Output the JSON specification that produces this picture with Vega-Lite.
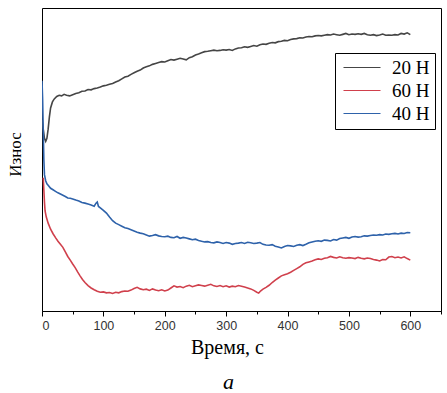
{
  "$schema": "https://vega.github.io/schema/vega-lite/v6.json",
  "autosize": "none",
  "width": 399,
  "height": 303,
  "padding": {"left": 42, "top": 8, "right": 6, "bottom": 82},
  "background": "white",
  "config": {
    "view": {"stroke": "black", "strokeWidth": 1},
    "axis": {"grid": false}
  },
  "title": {
    "text": "a",
    "orient": "bottom",
    "anchor": "middle",
    "font": "Liberation Serif",
    "fontSize": 22,
    "fontStyle": "italic",
    "fontWeight": "normal",
    "color": "black",
    "offset": 14,
    "dx": -13
  },
  "data": {
    "values": [
      {"s":"20 Н","t":0,"v":63},{"s":"20 Н","t":2,"v":60},{"s":"20 Н","t":4,"v":57},{"s":"20 Н","t":6,"v":56},{"s":"20 Н","t":8,"v":57},{"s":"20 Н","t":10,"v":60},{"s":"20 Н","t":12,"v":64},{"s":"20 Н","t":14,"v":67},{"s":"20 Н","t":17,"v":69},{"s":"20 Н","t":20,"v":70},{"s":"20 Н","t":24,"v":70.8},{"s":"20 Н","t":28,"v":71.2},{"s":"20 Н","t":32,"v":71},{"s":"20 Н","t":36,"v":71.5},{"s":"20 Н","t":40,"v":71.2},{"s":"20 Н","t":45,"v":71.0},{"s":"20 Н","t":50,"v":71.4},{"s":"20 Н","t":55,"v":71.8},{"s":"20 Н","t":60,"v":72},{"s":"20 Н","t":65,"v":72.5},{"s":"20 Н","t":70,"v":72.6},{"s":"20 Н","t":75,"v":73.1},{"s":"20 Н","t":80,"v":73},{"s":"20 Н","t":85,"v":73.4},{"s":"20 Н","t":90,"v":73.6},{"s":"20 Н","t":95,"v":73.9},{"s":"20 Н","t":100,"v":74.3},{"s":"20 Н","t":105,"v":74.5},{"s":"20 Н","t":110,"v":74.8},{"s":"20 Н","t":115,"v":75.1},{"s":"20 Н","t":120,"v":75.6},{"s":"20 Н","t":125,"v":76},{"s":"20 Н","t":130,"v":76.6},{"s":"20 Н","t":135,"v":77.2},{"s":"20 Н","t":140,"v":77.5},{"s":"20 Н","t":145,"v":78.1},{"s":"20 Н","t":150,"v":78.6},{"s":"20 Н","t":155,"v":79.1},{"s":"20 Н","t":160,"v":79.5},{"s":"20 Н","t":165,"v":80.2},{"s":"20 Н","t":170,"v":80.6},{"s":"20 Н","t":175,"v":80.9},{"s":"20 Н","t":180,"v":81.4},{"s":"20 Н","t":185,"v":81.7},{"s":"20 Н","t":190,"v":82},{"s":"20 Н","t":195,"v":82.3},{"s":"20 Н","t":200,"v":82.2},{"s":"20 Н","t":205,"v":82.6},{"s":"20 Н","t":210,"v":83.0},{"s":"20 Н","t":215,"v":82.8},{"s":"20 Н","t":220,"v":83.1},{"s":"20 Н","t":225,"v":83.4},{"s":"20 Н","t":230,"v":83.2},{"s":"20 Н","t":235,"v":82.9},{"s":"20 Н","t":240,"v":83.6},{"s":"20 Н","t":245,"v":83.9},{"s":"20 Н","t":250,"v":84.5},{"s":"20 Н","t":255,"v":84.8},{"s":"20 Н","t":260,"v":85.2},{"s":"20 Н","t":265,"v":85.6},{"s":"20 Н","t":270,"v":85.7},{"s":"20 Н","t":275,"v":85.9},{"s":"20 Н","t":280,"v":86.1},{"s":"20 Н","t":285,"v":85.9},{"s":"20 Н","t":290,"v":86.0},{"s":"20 Н","t":295,"v":86.2},{"s":"20 Н","t":300,"v":86.1},{"s":"20 Н","t":305,"v":86.3},{"s":"20 Н","t":310,"v":86.0},{"s":"20 Н","t":315,"v":86.5},{"s":"20 Н","t":320,"v":86.8},{"s":"20 Н","t":325,"v":86.9},{"s":"20 Н","t":330,"v":87.2},{"s":"20 Н","t":335,"v":87.0},{"s":"20 Н","t":340,"v":87.3},{"s":"20 Н","t":345,"v":87.6},{"s":"20 Н","t":350,"v":87.4},{"s":"20 Н","t":355,"v":87.9},{"s":"20 Н","t":360,"v":88.1},{"s":"20 Н","t":365,"v":88.0},{"s":"20 Н","t":370,"v":88.4},{"s":"20 Н","t":375,"v":88.6},{"s":"20 Н","t":380,"v":88.5},{"s":"20 Н","t":385,"v":88.9},{"s":"20 Н","t":390,"v":89.0},{"s":"20 Н","t":395,"v":89.3},{"s":"20 Н","t":400,"v":89.2},{"s":"20 Н","t":405,"v":89.6},{"s":"20 Н","t":410,"v":89.8},{"s":"20 Н","t":415,"v":89.9},{"s":"20 Н","t":420,"v":90.2},{"s":"20 Н","t":425,"v":90.1},{"s":"20 Н","t":430,"v":90.4},{"s":"20 Н","t":435,"v":90.6},{"s":"20 Н","t":440,"v":90.5},{"s":"20 Н","t":445,"v":90.8},{"s":"20 Н","t":450,"v":90.9},{"s":"20 Н","t":455,"v":90.8},{"s":"20 Н","t":460,"v":91.0},{"s":"20 Н","t":465,"v":91.2},{"s":"20 Н","t":470,"v":91.1},{"s":"20 Н","t":475,"v":91.4},{"s":"20 Н","t":480,"v":91.2},{"s":"20 Н","t":485,"v":91.0},{"s":"20 Н","t":490,"v":91.3},{"s":"20 Н","t":495,"v":91.6},{"s":"20 Н","t":500,"v":91.2},{"s":"20 Н","t":505,"v":91.4},{"s":"20 Н","t":510,"v":91.3},{"s":"20 Н","t":515,"v":91.5},{"s":"20 Н","t":520,"v":91.3},{"s":"20 Н","t":525,"v":91.6},{"s":"20 Н","t":530,"v":91.2},{"s":"20 Н","t":535,"v":91.0},{"s":"20 Н","t":540,"v":91.2},{"s":"20 Н","t":545,"v":90.9},{"s":"20 Н","t":550,"v":91.1},{"s":"20 Н","t":555,"v":91.4},{"s":"20 Н","t":560,"v":91.0},{"s":"20 Н","t":565,"v":91.1},{"s":"20 Н","t":570,"v":91.0},{"s":"20 Н","t":575,"v":91.2},{"s":"20 Н","t":580,"v":91.1},{"s":"20 Н","t":585,"v":91.6},{"s":"20 Н","t":590,"v":91.4},{"s":"20 Н","t":595,"v":91.8},{"s":"20 Н","t":600,"v":91.2},

      {"s":"40 Н","t":0,"v":76},{"s":"40 Н","t":1,"v":70},{"s":"40 Н","t":2,"v":60},{"s":"40 Н","t":3,"v":50},{"s":"40 Н","t":4,"v":45},{"s":"40 Н","t":6,"v":43},{"s":"40 Н","t":8,"v":42},{"s":"40 Н","t":10,"v":41.5},{"s":"40 Н","t":14,"v":40.5},{"s":"40 Н","t":18,"v":40},{"s":"40 Н","t":22,"v":39.5},{"s":"40 Н","t":26,"v":39},{"s":"40 Н","t":30,"v":38.6},{"s":"40 Н","t":34,"v":38.2},{"s":"40 Н","t":38,"v":37.8},{"s":"40 Н","t":42,"v":37.3},{"s":"40 Н","t":46,"v":37.2},{"s":"40 Н","t":50,"v":37.0},{"s":"40 Н","t":55,"v":36.6},{"s":"40 Н","t":60,"v":36.3},{"s":"40 Н","t":65,"v":35.8},{"s":"40 Н","t":70,"v":35.6},{"s":"40 Н","t":75,"v":35.3},{"s":"40 Н","t":80,"v":35.0},{"s":"40 Н","t":85,"v":34.6},{"s":"40 Н","t":88,"v":35.6},{"s":"40 Н","t":90,"v":36.0},{"s":"40 Н","t":92,"v":34.5},{"s":"40 Н","t":95,"v":34.0},{"s":"40 Н","t":100,"v":33.2},{"s":"40 Н","t":105,"v":32.3},{"s":"40 Н","t":110,"v":31.0},{"s":"40 Н","t":115,"v":29.8},{"s":"40 Н","t":120,"v":29.0},{"s":"40 Н","t":125,"v":28.5},{"s":"40 Н","t":130,"v":28.0},{"s":"40 Н","t":135,"v":27.5},{"s":"40 Н","t":140,"v":27.2},{"s":"40 Н","t":145,"v":26.8},{"s":"40 Н","t":150,"v":26.4},{"s":"40 Н","t":155,"v":26.0},{"s":"40 Н","t":160,"v":25.7},{"s":"40 Н","t":165,"v":25.5},{"s":"40 Н","t":170,"v":25.1},{"s":"40 Н","t":175,"v":24.7},{"s":"40 Н","t":180,"v":24.9},{"s":"40 Н","t":185,"v":25.2},{"s":"40 Н","t":190,"v":24.8},{"s":"40 Н","t":195,"v":24.6},{"s":"40 Н","t":200,"v":24.5},{"s":"40 Н","t":205,"v":24.7},{"s":"40 Н","t":210,"v":24.3},{"s":"40 Н","t":215,"v":24.2},{"s":"40 Н","t":220,"v":24.6},{"s":"40 Н","t":225,"v":24.0},{"s":"40 Н","t":230,"v":24.3},{"s":"40 Н","t":235,"v":24.1},{"s":"40 Н","t":240,"v":23.8},{"s":"40 Н","t":245,"v":23.5},{"s":"40 Н","t":250,"v":23.7},{"s":"40 Н","t":255,"v":23.3},{"s":"40 Н","t":260,"v":23.0},{"s":"40 Н","t":265,"v":22.8},{"s":"40 Н","t":270,"v":22.9},{"s":"40 Н","t":275,"v":22.6},{"s":"40 Н","t":280,"v":22.5},{"s":"40 Н","t":285,"v":22.8},{"s":"40 Н","t":290,"v":22.6},{"s":"40 Н","t":295,"v":22.3},{"s":"40 Н","t":300,"v":22.6},{"s":"40 Н","t":305,"v":22.4},{"s":"40 Н","t":310,"v":22.0},{"s":"40 Н","t":315,"v":22.3},{"s":"40 Н","t":320,"v":22.4},{"s":"40 Н","t":325,"v":22.6},{"s":"40 Н","t":330,"v":22.3},{"s":"40 Н","t":335,"v":22.7},{"s":"40 Н","t":340,"v":22.5},{"s":"40 Н","t":345,"v":22.3},{"s":"40 Н","t":350,"v":22.4},{"s":"40 Н","t":355,"v":22.6},{"s":"40 Н","t":360,"v":22.0},{"s":"40 Н","t":365,"v":21.8},{"s":"40 Н","t":370,"v":21.7},{"s":"40 Н","t":375,"v":21.9},{"s":"40 Н","t":380,"v":21.4},{"s":"40 Н","t":385,"v":21.1},{"s":"40 Н","t":390,"v":20.8},{"s":"40 Н","t":395,"v":21.3},{"s":"40 Н","t":400,"v":21.6},{"s":"40 Н","t":405,"v":21.5},{"s":"40 Н","t":410,"v":21.3},{"s":"40 Н","t":415,"v":21.7},{"s":"40 Н","t":420,"v":21.9},{"s":"40 Н","t":425,"v":21.6},{"s":"40 Н","t":430,"v":22.0},{"s":"40 Н","t":435,"v":22.5},{"s":"40 Н","t":440,"v":22.8},{"s":"40 Н","t":445,"v":23.0},{"s":"40 Н","t":450,"v":23.2},{"s":"40 Н","t":455,"v":23.0},{"s":"40 Н","t":460,"v":23.4},{"s":"40 Н","t":465,"v":23.3},{"s":"40 Н","t":470,"v":23.1},{"s":"40 Н","t":475,"v":23.6},{"s":"40 Н","t":480,"v":23.4},{"s":"40 Н","t":485,"v":23.9},{"s":"40 Н","t":490,"v":24.1},{"s":"40 Н","t":495,"v":24.3},{"s":"40 Н","t":500,"v":24.0},{"s":"40 Н","t":505,"v":24.4},{"s":"40 Н","t":510,"v":24.6},{"s":"40 Н","t":515,"v":24.4},{"s":"40 Н","t":520,"v":24.5},{"s":"40 Н","t":525,"v":24.8},{"s":"40 Н","t":530,"v":24.7},{"s":"40 Н","t":535,"v":24.9},{"s":"40 Н","t":540,"v":25.1},{"s":"40 Н","t":545,"v":25.0},{"s":"40 Н","t":550,"v":25.2},{"s":"40 Н","t":555,"v":25.1},{"s":"40 Н","t":560,"v":25.4},{"s":"40 Н","t":565,"v":25.3},{"s":"40 Н","t":570,"v":25.5},{"s":"40 Н","t":575,"v":25.6},{"s":"40 Н","t":580,"v":25.4},{"s":"40 Н","t":585,"v":25.7},{"s":"40 Н","t":590,"v":25.6},{"s":"40 Н","t":595,"v":25.9},{"s":"40 Н","t":600,"v":25.8},

      {"s":"60 Н","t":2,"v":44},{"s":"60 Н","t":3,"v":40},{"s":"60 Н","t":4,"v":36},{"s":"60 Н","t":5,"v":33},{"s":"60 Н","t":7,"v":31},{"s":"60 Н","t":10,"v":29},{"s":"60 Н","t":14,"v":27},{"s":"60 Н","t":18,"v":25.5},{"s":"60 Н","t":22,"v":24.2},{"s":"60 Н","t":26,"v":23.0},{"s":"60 Н","t":30,"v":22.0},{"s":"60 Н","t":34,"v":21.0},{"s":"60 Н","t":38,"v":19.5},{"s":"60 Н","t":42,"v":18},{"s":"60 Н","t":46,"v":16.8},{"s":"60 Н","t":50,"v":15.5},{"s":"60 Н","t":54,"v":14.3},{"s":"60 Н","t":58,"v":12.9},{"s":"60 Н","t":62,"v":11.6},{"s":"60 Н","t":66,"v":10.4},{"s":"60 Н","t":70,"v":9.4},{"s":"60 Н","t":75,"v":8.4},{"s":"60 Н","t":80,"v":7.6},{"s":"60 Н","t":85,"v":7.0},{"s":"60 Н","t":90,"v":6.5},{"s":"60 Н","t":95,"v":6.2},{"s":"60 Н","t":100,"v":6.3},{"s":"60 Н","t":105,"v":6.0},{"s":"60 Н","t":110,"v":6.1},{"s":"60 Н","t":115,"v":5.8},{"s":"60 Н","t":120,"v":6.2},{"s":"60 Н","t":125,"v":6.0},{"s":"60 Н","t":130,"v":6.4},{"s":"60 Н","t":135,"v":6.6},{"s":"60 Н","t":140,"v":6.5},{"s":"60 Н","t":145,"v":6.9},{"s":"60 Н","t":150,"v":7.4},{"s":"60 Н","t":155,"v":7.8},{"s":"60 Н","t":160,"v":7.3},{"s":"60 Н","t":165,"v":7.0},{"s":"60 Н","t":170,"v":7.2},{"s":"60 Н","t":175,"v":6.8},{"s":"60 Н","t":180,"v":7.3},{"s":"60 Н","t":185,"v":6.9},{"s":"60 Н","t":190,"v":6.7},{"s":"60 Н","t":195,"v":7.0},{"s":"60 Н","t":200,"v":6.6},{"s":"60 Н","t":205,"v":6.9},{"s":"60 Н","t":210,"v":7.6},{"s":"60 Н","t":215,"v":8.3},{"s":"60 Н","t":220,"v":7.9},{"s":"60 Н","t":225,"v":8.1},{"s":"60 Н","t":230,"v":7.7},{"s":"60 Н","t":235,"v":8.2},{"s":"60 Н","t":240,"v":8.5},{"s":"60 Н","t":245,"v":8.0},{"s":"60 Н","t":250,"v":8.3},{"s":"60 Н","t":255,"v":8.6},{"s":"60 Н","t":260,"v":8.4},{"s":"60 Н","t":265,"v":8.2},{"s":"60 Н","t":270,"v":8.5},{"s":"60 Н","t":275,"v":8.8},{"s":"60 Н","t":280,"v":8.3},{"s":"60 Н","t":285,"v":8.1},{"s":"60 Н","t":290,"v":8.4},{"s":"60 Н","t":295,"v":8.0},{"s":"60 Н","t":300,"v":8.3},{"s":"60 Н","t":305,"v":7.9},{"s":"60 Н","t":310,"v":8.2},{"s":"60 Н","t":315,"v":8.0},{"s":"60 Н","t":320,"v":8.4},{"s":"60 Н","t":325,"v":8.2},{"s":"60 Н","t":330,"v":7.9},{"s":"60 Н","t":335,"v":7.6},{"s":"60 Н","t":340,"v":7.3},{"s":"60 Н","t":345,"v":6.8},{"s":"60 Н","t":350,"v":6.2},{"s":"60 Н","t":353,"v":5.9},{"s":"60 Н","t":356,"v":6.6},{"s":"60 Н","t":360,"v":7.2},{"s":"60 Н","t":365,"v":7.8},{"s":"60 Н","t":370,"v":8.5},{"s":"60 Н","t":375,"v":9.4},{"s":"60 Н","t":380,"v":10.2},{"s":"60 Н","t":385,"v":10.9},{"s":"60 Н","t":390,"v":11.6},{"s":"60 Н","t":395,"v":12.0},{"s":"60 Н","t":400,"v":12.3},{"s":"60 Н","t":405,"v":12.8},{"s":"60 Н","t":410,"v":13.4},{"s":"60 Н","t":415,"v":14.0},{"s":"60 Н","t":420,"v":14.6},{"s":"60 Н","t":425,"v":15.4},{"s":"60 Н","t":430,"v":15.9},{"s":"60 Н","t":435,"v":16.2},{"s":"60 Н","t":440,"v":16.5},{"s":"60 Н","t":445,"v":16.9},{"s":"60 Н","t":450,"v":17.2},{"s":"60 Н","t":455,"v":17.0},{"s":"60 Н","t":460,"v":17.4},{"s":"60 Н","t":465,"v":17.6},{"s":"60 Н","t":470,"v":18.0},{"s":"60 Н","t":475,"v":17.7},{"s":"60 Н","t":480,"v":17.5},{"s":"60 Н","t":485,"v":17.9},{"s":"60 Н","t":490,"v":17.6},{"s":"60 Н","t":495,"v":17.4},{"s":"60 Н","t":500,"v":17.6},{"s":"60 Н","t":505,"v":17.5},{"s":"60 Н","t":510,"v":17.3},{"s":"60 Н","t":515,"v":17.7},{"s":"60 Н","t":520,"v":17.4},{"s":"60 Н","t":525,"v":17.2},{"s":"60 Н","t":530,"v":17.5},{"s":"60 Н","t":535,"v":17.3},{"s":"60 Н","t":540,"v":17.0},{"s":"60 Н","t":545,"v":16.8},{"s":"60 Н","t":550,"v":16.5},{"s":"60 Н","t":555,"v":17.0},{"s":"60 Н","t":560,"v":16.9},{"s":"60 Н","t":565,"v":17.8},{"s":"60 Н","t":570,"v":18.0},{"s":"60 Н","t":575,"v":17.6},{"s":"60 Н","t":580,"v":17.8},{"s":"60 Н","t":585,"v":17.5},{"s":"60 Н","t":590,"v":17.9},{"s":"60 Н","t":595,"v":17.3},{"s":"60 Н","t":600,"v":16.8}
    ]
  },
  "mark": {"type": "line", "strokeWidth": 1.6, "clip": true},
  "encoding": {
    "x": {
      "field": "t",
      "type": "quantitative",
      "scale": {"domain": [0, 650], "nice": false},
      "axis": {
        "values": [0, 50, 100, 150, 200, 250, 300, 350, 400, 450, 500, 550, 600, 650],
        "labelExpr": "datum.value % 100 === 0 && datum.value <= 600 ? datum.label : ''",
        "tickSize": {"condition": {"test": "datum.value % 100 === 0", "value": 5}, "value": 3},
        "tickColor": "black",
        "domainColor": "black",
        "labelFont": "Liberation Sans",
        "labelFontSize": 12.5,
        "labelColor": "#333333",
        "labelPadding": 3,
        "title": "Время, с",
        "titleFont": "Liberation Serif",
        "titleFontSize": 20,
        "titleFontWeight": "normal",
        "titleColor": "black",
        "titlePadding": 6,
        "titleX": 185
      }
    },
    "y": {
      "field": "v",
      "type": "quantitative",
      "scale": {"domain": [0, 100], "nice": false},
      "axis": {
        "labels": false,
        "ticks": false,
        "domain": false,
        "title": "Износ",
        "titleFont": "Liberation Serif",
        "titleFontSize": 17,
        "titleFontWeight": "normal",
        "titleColor": "black",
        "titleX": -27,
        "titleY": 146,
        "titleAngle": -90,
        "titleBaseline": "middle",
        "titleAlign": "center"
      }
    },
    "color": {
      "field": "s",
      "type": "nominal",
      "scale": {"domain": ["20 Н", "60 Н", "40 Н"], "range": ["#454545", "#d0404c", "#2e62aa"]},
      "legend": {
        "title": null,
        "orient": "none",
        "legendX": 293,
        "legendY": 45,
        "strokeColor": "black",
        "fillColor": "white",
        "padding": 5,
        "symbolType": "M-1.2,0H6.2",
        "symbolSize": 100,
        "symbolStrokeWidth": 1.2,
        "labelFont": "Liberation Serif",
        "labelFontSize": 19,
        "labelColor": "black",
        "labelOffset": 33,
        "rowPadding": 3
      }
    }
  }
}
